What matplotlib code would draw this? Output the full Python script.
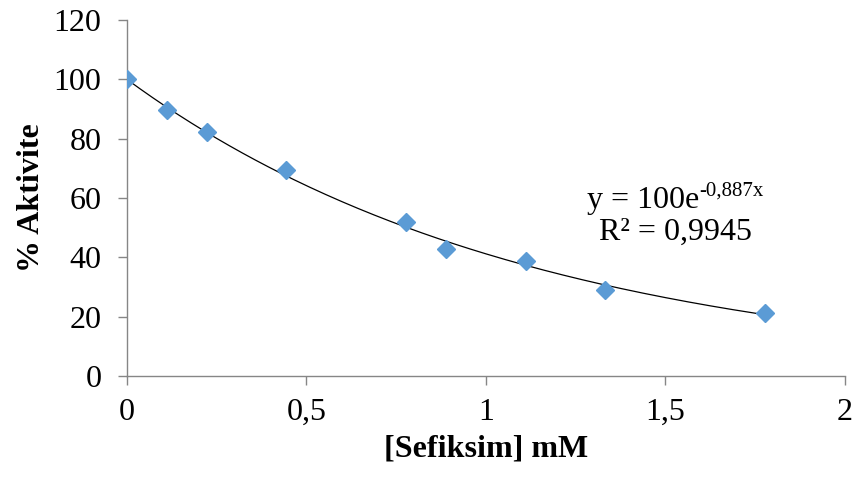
import numpy as np
import matplotlib
matplotlib.use('Agg')
import matplotlib.pyplot as plt
from matplotlib.ticker import FuncFormatter

# data
conc_mM = [0, 0.111, 0.222, 0.444, 0.778, 0.889, 1.111, 1.333, 1.778]
activity = [100, 89.7, 82.2, 69.4, 51.9, 42.8, 38.8, 29.0, 21.2]
fit_a = 100
fit_b = -0.887
r2 = 0.9945

plt.rcParams['font.family'] = ['Liberation Serif', 'DejaVu Serif']

axis_col = '#868686'
fs = 23

def comma(v):
    return ('%g' % v).replace('.', ',')

fig = plt.figure(figsize=(8.55, 4.78), dpi=100)
ax = fig.add_axes([0.1485, 0.2134, 0.8395, 0.7446])

xs = np.linspace(0, max(conc_mM), 200)
ax.plot(xs, fit_a * np.exp(fit_b * xs), color='black', lw=0.9, zorder=2)
ax.plot(conc_mM, activity, linestyle='none', marker='D', ms=9.5,
        color='#5B9BD5', zorder=3)

ax.set_xlim(0, 2)
ax.set_ylim(0, 120)
ax.set_xticks([0, 0.5, 1, 1.5, 2])
ax.set_yticks(range(0, 121, 20))
ax.xaxis.set_major_formatter(FuncFormatter(lambda v, p: comma(v)))

for s in ['top', 'right']:
    ax.spines[s].set_visible(False)
for s in ['left', 'bottom']:
    ax.spines[s].set_color(axis_col)
    ax.spines[s].set_linewidth(1.0)

ax.tick_params(axis='both', colors=axis_col, labelcolor='black', labelsize=fs,
               length=6.5, width=1.0, direction='out')
ax.tick_params(axis='y', pad=12)
ax.tick_params(axis='x', pad=9)

ax.set_xlabel('[Sefiksim] mM', fontsize=fs, fontweight='bold', labelpad=6)
ax.set_ylabel('% Aktivite', fontsize=fs, fontweight='bold', labelpad=5)

# trendline equation, superscript drawn as a second text
ax.text(1.281, 56.6, 'y = %de' % fit_a, fontsize=fs, ha='left', va='baseline')
ax.text(1.596, 61.0, comma(fit_b) + 'x', fontsize=15, ha='left', va='baseline')
ax.text(1.529, 45.8, 'R² = ' + comma(r2), fontsize=fs, ha='center', va='baseline')

fig.savefig('out.png', dpi=100)
